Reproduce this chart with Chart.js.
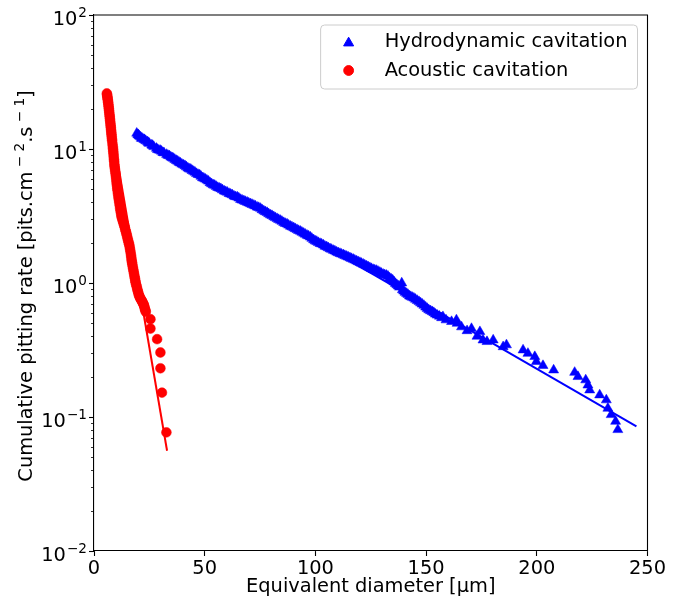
<!DOCTYPE html>
<html>
<head>
<meta charset="utf-8">
<script src="https://cdn.jsdelivr.net/npm/chart.js@4.4.0/dist/chart.umd.min.js"></script>
<style>
  html, body { margin: 0; padding: 0; background: #fff; }
  #wrap { width: 688px; height: 606px; position: relative; }
</style>
</head>
<body>
<div id="wrap"><canvas id="pitChart"></canvas></div>
<script>
const xTicks = [0, 50, 100, 150, 200, 250];
const yTicks = [0.01, 0.1, 1, 10, 100];
const yTickExponents = ['−2', '−1', '0', '1', '2'];
const yMinorSteps = [2, 3, 4, 5, 6, 7, 8, 9];
const seriesLabels = ['Hydrodynamic cavitation', 'Acoustic cavitation'];
const xTitle = 'Equivalent diameter [µm]';
// [text, superscript?]
const yTitleParts = [['Cumulative pitting rate [pits.cm', false], [' − 2', true], ['.s', false], [' − 1', true], [']', false]];

// [diameter, cumulative rate]
const hydroPoints = [
  [19.3, 13.1], [19.8, 12.8], [20.4, 12.5], [21.0, 12.3], [21.7, 12.0], [22.5, 11.8],
  [23.4, 11.5], [24.2, 11.3], [25.0, 11.0], [26.1, 10.7], [27.0, 10.4], [28.2, 10.1],
  [29.3, 9.8], [30.5, 9.6], [31.6, 9.35], [32.8, 9.1], [34.0, 8.9], [35.3, 8.6],
  [36.5, 8.35], [37.8, 8.1], [39.0, 7.85], [40.4, 7.6], [41.7, 7.35], [43.0, 7.1],
  [44.3, 6.9], [45.6, 6.7], [47.0, 6.45], [48.3, 6.25], [49.6, 6.05], [51.0, 5.85],
  [52.4, 5.6], [53.8, 5.4], [55.2, 5.25], [56.6, 5.1], [58.0, 4.95], [59.5, 4.8],
  [61.0, 4.65], [62.4, 4.55], [63.9, 4.4], [65.4, 4.3], [66.9, 4.15], [68.4, 4.05],
  [69.9, 3.95], [71.4, 3.85], [72.9, 3.75], [74.4, 3.65], [75.9, 3.52], [77.4, 3.4],
  [78.9, 3.28], [80.4, 3.18], [81.9, 3.07], [83.4, 2.97], [84.9, 2.88], [86.4, 2.78],
  [87.9, 2.7], [89.4, 2.62], [90.9, 2.54], [92.4, 2.46], [93.9, 2.39], [95.4, 2.31],
  [96.9, 2.24], [98.4, 2.15], [99.9, 2.06], [101.3, 2.0], [102.8, 1.95], [104.3, 1.88],
  [105.8, 1.83], [107.3, 1.78], [108.8, 1.73], [110.3, 1.68], [111.8, 1.64], [113.3, 1.6],
  [114.8, 1.56], [116.3, 1.52], [117.8, 1.48], [119.3, 1.44], [120.8, 1.40], [122.3, 1.36],
  [123.8, 1.32], [125.3, 1.28], [126.8, 1.25], [128.3, 1.22], [129.8, 1.18], [131.3, 1.15],
  [132.8, 1.12], [134.2, 1.07], [135.5, 1.02], [136.8, 0.97], [138.0, 0.93], [139.0, 1.0],
  [139.3, 0.89], [140.5, 0.85], [141.8, 0.82], [143.1, 0.79], [144.5, 0.77], [146.0, 0.74],
  [147.5, 0.71], [149.0, 0.68], [150.5, 0.645], [152.0, 0.62], [153.5, 0.60], [155.0, 0.575],
  [157.0, 0.55], [157.6, 0.56], [159.0, 0.53], [161.5, 0.515], [163.7, 0.53], [164.0, 0.50],
  [166.0, 0.47], [168.5, 0.44], [170.5, 0.457], [173.0, 0.40], [174.3, 0.433], [175.7, 0.375],
  [177.5, 0.365], [180.3, 0.375], [184.8, 0.334], [186.3, 0.345], [193.8, 0.316], [196.0, 0.298],
  [199.1, 0.282], [199.8, 0.259], [202.8, 0.242], [207.6, 0.224], [217.1, 0.215], [218.6, 0.200],
  [222.1, 0.189], [223.1, 0.173], [223.9, 0.159], [228.4, 0.146], [231.4, 0.134], [232.1, 0.116],
  [233.6, 0.104], [235.6, 0.0927], [236.6, 0.0804],
  [20.1, 12.7], [21.4, 12.0], [22.9, 11.7], [24.6, 11.1], [26.5, 10.6], [28.7, 9.9],
  [30.0, 9.75], [31.1, 9.4], [33.4, 8.95], [34.7, 8.7], [35.9, 8.5], [37.2, 8.2],
  [38.4, 7.95], [39.7, 7.7], [41.1, 7.5], [42.4, 7.2], [43.7, 7.05], [45.0, 6.8],
  [46.3, 6.55], [47.7, 6.4], [49.0, 6.1], [50.3, 5.95], [51.7, 5.75], [53.1, 5.5],
  [54.5, 5.35], [55.9, 5.15], [57.3, 5.05], [58.8, 4.85], [60.2, 4.75], [61.7, 4.6],
  [63.2, 4.45], [64.7, 4.38], [66.2, 4.2], [67.7, 4.1], [69.2, 4.0], [70.7, 3.9],
  [72.2, 3.8], [73.7, 3.68], [75.2, 3.6], [76.7, 3.45], [78.2, 3.35], [79.7, 3.22],
  [81.2, 3.12], [82.7, 3.02], [84.2, 2.93], [85.7, 2.82], [87.2, 2.75], [88.7, 2.65],
  [90.2, 2.58], [91.7, 2.5], [93.2, 2.43], [94.7, 2.35], [96.2, 2.27], [97.7, 2.2],
  [99.2, 2.1], [100.6, 2.04], [102.1, 1.97], [103.6, 1.92], [105.1, 1.86], [106.6, 1.8],
  [108.1, 1.75], [109.6, 1.7], [111.1, 1.66], [112.6, 1.62], [114.1, 1.58], [115.6, 1.54],
  [117.1, 1.5], [118.6, 1.46], [120.1, 1.42], [121.6, 1.38], [123.1, 1.34], [124.6, 1.3],
  [126.1, 1.26], [127.6, 1.24], [129.1, 1.2], [130.6, 1.16], [132.1, 1.14], [133.5, 1.09],
  [134.9, 1.05], [136.2, 0.99], [137.4, 0.95], [139.9, 0.87], [141.2, 0.835], [142.5, 0.8],
  [143.8, 0.78], [145.2, 0.755], [146.8, 0.725], [148.2, 0.695], [149.8, 0.66], [151.2, 0.63],
  [152.8, 0.61], [154.2, 0.585], [156.0, 0.565]
];

const acousticPoints = [
  [5.8, 26.0], [6.0, 24.8], [6.2, 23.5], [6.4, 22.2], [6.6, 20.8], [6.8, 19.4],
  [7.0, 18.0], [7.2, 16.8], [7.4, 15.6], [7.6, 14.5], [7.8, 13.4], [8.0, 12.4],
  [8.2, 11.5], [8.5, 10.4], [8.7, 9.6], [8.9, 8.8], [9.1, 8.1], [9.3, 7.4],
  [9.6, 6.8], [9.9, 6.2], [10.2, 5.6], [10.5, 5.1], [10.8, 4.65], [11.2, 4.2],
  [11.6, 3.8], [12.0, 3.45], [12.4, 3.15], [12.9, 2.95], [13.4, 2.78], [13.9, 2.6],
  [14.4, 2.42], [14.9, 2.25], [15.4, 2.08], [15.9, 1.94], [16.3, 1.78], [16.7, 1.62],
  [17.0, 1.48], [17.3, 1.38], [17.7, 1.27], [18.1, 1.17], [18.5, 1.08], [18.8, 1.01],
  [19.3, 0.94], [19.8, 0.87], [20.3, 0.81], [20.9, 0.77], [21.5, 0.74], [22.1, 0.71],
  [22.6, 0.68], [23.0, 0.64], [23.4, 0.61], [25.5, 0.537], [25.5, 0.457], [28.5, 0.381],
  [30.0, 0.303], [30.0, 0.231], [30.7, 0.152], [32.7, 0.0768],
  [5.9, 25.4], [6.1, 24.1], [6.3, 22.8], [6.5, 21.5], [6.7, 20.1], [6.9, 18.7],
  [7.1, 17.4], [7.3, 16.2], [7.5, 15.0], [7.7, 13.9], [7.9, 12.9], [8.1, 11.9],
  [8.35, 10.9], [8.6, 10.0], [8.8, 9.2], [9.0, 8.4], [9.2, 7.7], [9.45, 7.1],
  [9.75, 6.5], [10.05, 5.9], [10.35, 5.35], [10.65, 4.9], [11.0, 4.4], [11.4, 4.0],
  [11.8, 3.6], [12.2, 3.3], [12.65, 3.05], [13.15, 2.86], [13.65, 2.69], [14.15, 2.5],
  [14.65, 2.33], [15.15, 2.16], [15.65, 2.0], [16.1, 1.86], [16.5, 1.7], [16.85, 1.55],
  [17.15, 1.43], [17.5, 1.32], [17.9, 1.22], [18.3, 1.12], [18.65, 1.04], [19.05, 0.97],
  [19.55, 0.9], [20.05, 0.84], [20.6, 0.79], [21.2, 0.755], [21.8, 0.725], [22.35, 0.695],
  [22.8, 0.66], [23.2, 0.625]
];

// exponential fits (straight on log scale), end points only
const hydroFit = [[19, 12.2], [245, 0.085]];
const acousticFit = [[5.8, 23.5], [33.0, 0.056]];

const baseFont = { family: '"DejaVu Sans", sans-serif', size: 19.4 };
const supSize = 13.6;
const toXY = (pairs) => pairs.map(([x, y]) => ({ x, y }));

const frameAndMinorTicks = {
  id: 'frameAndMinorTicks',
  afterDraw(chart) {
    const { ctx, chartArea: { left, right, top, bottom }, scales: { y } } = chart;
    ctx.save();
    ctx.strokeStyle = '#000';
    ctx.lineWidth = 1.1;
    ctx.beginPath();
    ctx.moveTo(left, top);
    ctx.lineTo(right, top);
    ctx.lineTo(right, bottom);
    ctx.stroke();

    ctx.lineWidth = 0.8;
    ctx.beginPath();
    for (let k = 0; k < yTicks.length - 1; k++) {
      yMinorSteps.forEach((m) => {
        const py = Math.round(y.getPixelForValue(m * yTicks[k])) + 0.5;
        ctx.moveTo(left, py);
        ctx.lineTo(left - 3, py);
      });
    }
    ctx.stroke();
    ctx.restore();
  }
};

// y tick labels and y title with real superscripts
const yAxisText = {
  id: 'yAxisText',
  afterDraw(chart) {
    const { ctx, chartArea, scales: { y } } = chart;
    const mainFont = `${baseFont.size}px ${baseFont.family}`;
    const supFont = `${supSize}px ${baseFont.family}`;
    ctx.save();
    ctx.fillStyle = '#000';
    ctx.textBaseline = 'alphabetic';
    ctx.textAlign = 'left';

    yTicks.forEach((v, i) => {
      const py = y.getPixelForValue(v);
      const exp = yTickExponents[i];
      ctx.font = supFont;
      const ew = ctx.measureText(exp).width;
      ctx.font = mainFont;
      const bw = ctx.measureText('10').width;
      const x0 = chartArea.left - 7 - ew - bw - 1;
      ctx.fillText('10', x0, py + 10);
      ctx.font = supFont;
      ctx.fillText(exp, x0 + bw + 1, py + 2);
    });

    const widths = yTitleParts.map(([t, sup]) => {
      ctx.font = sup ? supFont : mainFont;
      return ctx.measureText(t).width;
    });
    const total = widths.reduce((a, b) => a + b, 0);
    ctx.translate(32, (chartArea.top + chartArea.bottom) / 2 + 3);
    ctx.rotate(-Math.PI / 2);
    let cx = -total / 2;
    yTitleParts.forEach(([t, sup], i) => {
      ctx.font = sup ? supFont : mainFont;
      ctx.fillText(t, cx, sup ? -8 : 0);
      cx += widths[i];
    });
    ctx.restore();
  }
};

const legendBox = {
  id: 'legendBox',
  afterDraw(chart) {
    const { ctx, chartArea } = chart;
    const items = chart.data.datasets.filter((ds) => ds.label);
    ctx.save();
    ctx.font = `${baseFont.size}px ${baseFont.family}`;
    const textW = Math.max(...items.map((ds) => ctx.measureText(ds.label).width));
    const right = chartArea.right - 10;
    const top = chartArea.top + 10;
    const width = 64 + textW + 10;
    const height = 64;
    const left = right - width;

    ctx.beginPath();
    ctx.roundRect(left, top, width, height, 4);
    ctx.fillStyle = 'rgba(255,255,255,0.8)';
    ctx.fill();
    ctx.strokeStyle = '#cccccc';
    ctx.lineWidth = 1;
    ctx.stroke();

    items.forEach((ds, i) => {
      const cy = top + 17 + i * 28.5;
      ctx.fillStyle = ds.backgroundColor;
      ctx.strokeStyle = ds.borderColor;
      Chart.helpers.drawPoint(ctx, {
        pointStyle: ds.pointStyle,
        radius: ds.pointRadius,
        borderWidth: ds.borderWidth,
        rotation: 0
      }, left + 28, cy + (ds.pointStyle === 'triangle' ? 1 : 0));
      ctx.fillStyle = '#000';
      ctx.textBaseline = 'middle';
      ctx.textAlign = 'left';
      ctx.fillText(ds.label, left + 64, cy);
    });
    ctx.restore();
  }
};

new Chart(document.getElementById('pitChart'), {
  type: 'scatter',
  data: {
    datasets: [
      {
        data: toXY(hydroFit),
        showLine: true,
        borderColor: '#0000ff',
        borderWidth: 2,
        pointRadius: 0,
        order: 0
      },
      {
        data: toXY(acousticFit),
        showLine: true,
        borderColor: '#ff0000',
        borderWidth: 2,
        pointRadius: 0,
        order: 0
      },
      {
        label: seriesLabels[0],
        data: toXY(hydroPoints),
        pointStyle: 'triangle',
        pointRadius: 5.8,
        backgroundColor: '#0000ff',
        borderColor: '#0000ff',
        borderWidth: 0.5,
        order: 1
      },
      {
        label: seriesLabels[1],
        data: toXY(acousticPoints),
        pointStyle: 'circle',
        pointRadius: 4.9,
        backgroundColor: '#ff0000',
        borderColor: '#ff0000',
        borderWidth: 0.5,
        order: 1
      }
    ]
  },
  options: {
    responsive: true,
    maintainAspectRatio: false,
    animation: false,
    layout: { padding: { top: 15, right: 40.5, left: 0, bottom: 0 } },
    plugins: {
      legend: { display: false },
      tooltip: { enabled: false }
    },
    scales: {
      x: {
        type: 'linear',
        min: 0,
        max: 250,
        afterBuildTicks(scale) {
          scale.ticks = xTicks.map((v) => ({ value: v }));
        },
        afterFit(scale) {
          scale.height = 55;
        },
        ticks: { font: baseFont, color: '#000', padding: 1, maxRotation: 0, autoSkip: false },
        grid: { drawOnChartArea: false, drawTicks: true, tickLength: 5, tickColor: '#000', tickWidth: 1.1 },
        border: { display: true, color: '#000', width: 1.1 },
        title: {
          display: true,
          text: xTitle,
          font: baseFont,
          color: '#000',
          padding: { top: 0, bottom: 7 }
        }
      },
      y: {
        type: 'logarithmic',
        min: 0.01,
        max: 100,
        afterBuildTicks(scale) {
          scale.ticks = yTicks.map((v) => ({ value: v }));
        },
        afterFit(scale) {
          scale.width = 94;
        },
        ticks: { display: false },
        grid: { drawOnChartArea: false, drawTicks: true, tickLength: 5, tickColor: '#000', tickWidth: 1.1 },
        border: { display: true, color: '#000', width: 1.1 },
        title: { display: false }
      }
    }
  },
  plugins: [frameAndMinorTicks, yAxisText, legendBox]
});
</script>
</body>
</html>
